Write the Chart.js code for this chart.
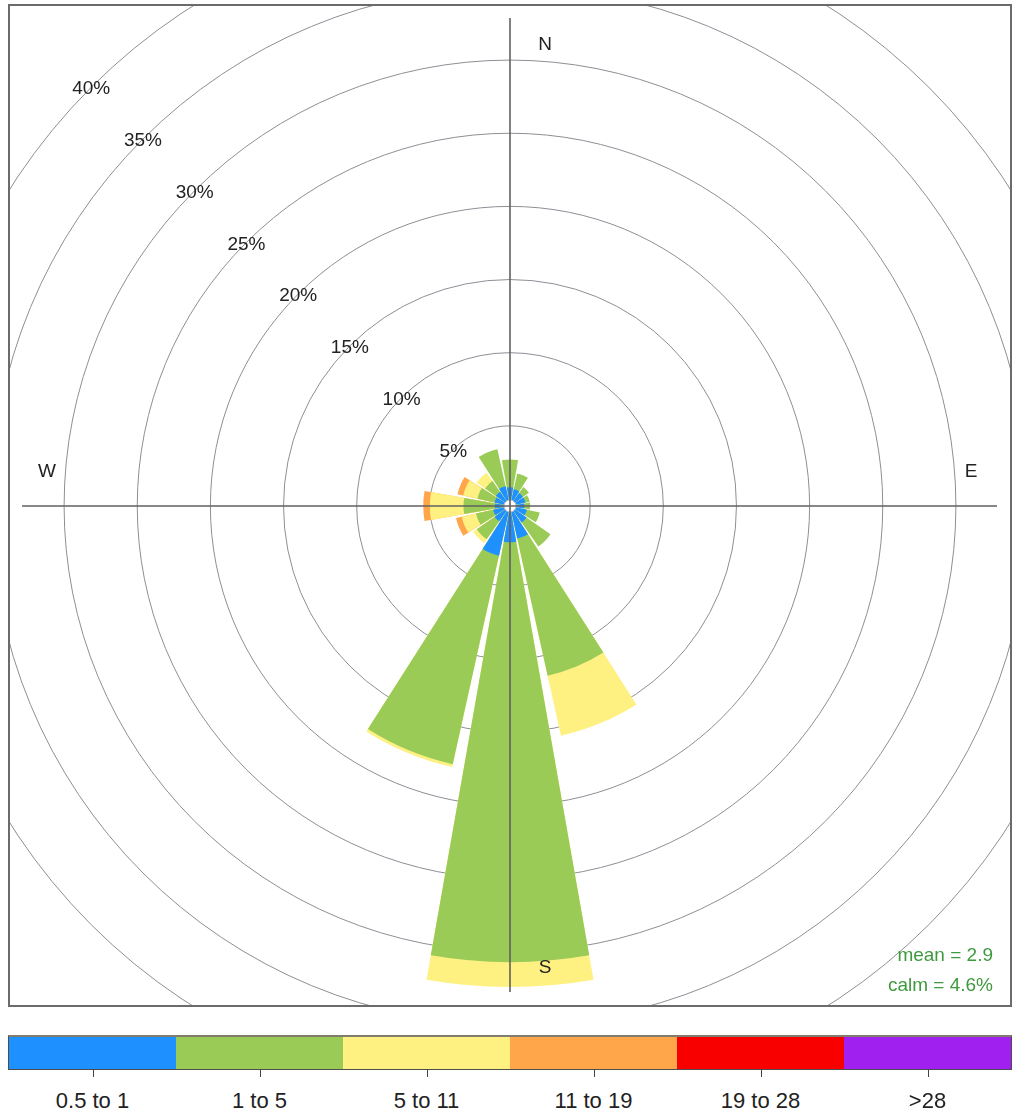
<!DOCTYPE html>
<html>
<head>
<meta charset="utf-8">
<title>Wind rose</title>
<script src="https://cdn.jsdelivr.net/npm/chart.js@4.4.1/dist/chart.umd.min.js"></script>
<style>
  body { margin: 0; background: #fff; font-family: "Liberation Sans", Arial, sans-serif; }
  #frame { position: absolute; left: 8px; top: 4px; width: 1004px; height: 1003px;
    border: 2px solid #6b6b6b; box-sizing: border-box; overflow: hidden; }
  #rose { position: absolute; left: -120px; top: -120px; }
  .stat { position: absolute; right: 17px; color: #3f9a3f; font-size: 19px; line-height: 22px; }
  #key { position: absolute; left: 8px; top: 1035px; width: 1004px; height: 35px; display: flex;
    border: 1px solid #4d4d4d; border-top: 2px solid #807c6e; box-sizing: border-box; }
  #key .cell { flex: 1; position: relative; }
  #key .tick { position: absolute; left: 50%; top: 100%; width: 1px; height: 8px; background: #444; }
  #key .name { position: absolute; left: 50%; top: 51px; transform: translateX(-50%);
    white-space: nowrap; font-size: 22px; color: #222; }
</style>
</head>
<body>
<div id="frame">
  <canvas id="rose" width="1240" height="1240"></canvas>
  <div class="stat" id="mean" style="top: 938px;"></div>
  <div class="stat" id="calm" style="top: 968px;"></div>
</div>
<div id="key"></div>

<script>
const directions = ['N', 'NNE', 'NE', 'ENE', 'E', 'ESE', 'SE', 'SSE',
  'S', 'SSW', 'SW', 'WSW', 'W', 'WNW', 'NW', 'NNW'];
const speedBins = ['0.5 to 1', '1 to 5', '5 to 11', '11 to 19', '19 to 28', '>28'];

// % of time per direction for each wind speed band
const ws0p5to1 = [0.8, 0.7, 0.6, 0.6, 0.5, 0.7, 0.9, 1.8, 2.0, 3.0, 0.8, 0.7, 0.55, 0.6, 0.7, 0.9];
const ws1to5 = [1.9, 1.1, 0.5, 0.3, 0.4, 0.9, 2.0, 9.6, 28.7, 14.6, 1.5, 1.2, 2.15, 1.2, 0.9, 2.6];
const ws5to11 = [0, 0, 0, 0, 0, 0, 0, 4.2, 1.7, 0.2, 0.3, 1.0, 2.3, 1.0, 0.7, 0];
const ws11to19 = [0, 0, 0, 0, 0, 0, 0, 0, 0, 0, 0, 0.4, 0.45, 0.4, 0, 0];
const ws19to28 = [0, 0, 0, 0, 0, 0, 0, 0, 0, 0, 0, 0, 0, 0, 0, 0];
const ws28up = [0, 0, 0, 0, 0, 0, 0, 0, 0, 0, 0, 0, 0, 0, 0, 0];

const ringTicks = [5, 10, 15, 20, 25, 30, 35, 40];
const meanSpeed = 2.9;
const calmPct = 4.6;

const binColors = ['#1e90ff', '#9bcb57', '#fff082', '#ffa54a', '#f80000', '#a020f0'];
const barAngle = 20;   // each 22.5 deg sector, with a small wedge left empty
const gapAngle = 2.5;

// turn the bands into cumulative radii, each bar followed by an empty gap slot
function stackBins(bins) {
  let running = directions.map(() => 0);
  return bins.map((bin) => {
    running = running.map((v, i) => v + bin[i]);
    let out = [];
    running.forEach((v, i) => {
      out.push(bin[i] > 0 ? v : 0);
      out.push(0);
    });
    return out;
  });
}

const roseDecor = {
  id: 'roseDecor',
  afterDatasetsDraw(chart) {
    const ctx = chart.ctx;
    const scale = chart.scales.r;
    const cx = scale.xCenter;
    const cy = scale.yCenter;
    ctx.save();

    // calm hole in the middle
    ctx.beginPath();
    ctx.arc(cx, cy, scale.getDistanceFromCenterForValue(0) - 1, 0, Math.PI * 2);
    ctx.fillStyle = '#fff';
    ctx.fill();
    ctx.strokeStyle = '#b8b8c4';
    ctx.lineWidth = 1;
    ctx.stroke();

    // N-S / E-W axes
    ctx.strokeStyle = '#626262';
    ctx.lineWidth = 1.6;
    ctx.beginPath();
    ctx.moveTo(cx - 488, cy);
    ctx.lineTo(cx + 487, cy);
    ctx.moveTo(cx, cy - 488);
    ctx.lineTo(cx, cy + 486);
    ctx.stroke();

    ctx.fillStyle = '#222';
    ctx.textAlign = 'center';
    ctx.textBaseline = 'middle';
    ctx.font = '19px "Liberation Sans", Arial, sans-serif';

    // percentage labels along the NW diagonal
    ringTicks.forEach((v) => {
      const d = scale.getDistanceFromCenterForValue(v);
      ctx.fillText(v + '%', cx - d * Math.SQRT1_2, cy - d * Math.SQRT1_2 + 2);
    });

    ctx.fillText('N', cx + 35, cy - 461);
    ctx.fillText('E', cx + 461, cy - 34);
    ctx.fillText('S', cx + 35, cy + 462);
    ctx.fillText('W', cx - 463, cy - 34);
    ctx.restore();
  }
};

function drawRose() {
  const stacked = stackBins([ws0p5to1, ws1to5, ws5to11, ws11to19, ws19to28, ws28up]);
  let labels = [];
  directions.forEach((d) => { labels.push(d); labels.push(''); });

  const datasets = stacked.map((data, k) => ({
    label: speedBins[k],
    data: data,
    borderWidth: 0,
    angle: (c) => (c.dataIndex % 2 ? gapAngle : barAngle),
    backgroundColor: (c) => (c.dataIndex % 2 || !c.raw ? 'rgba(0,0,0,0)' : binColors[k]),
  }));

  new Chart(document.getElementById('rose'), {
    type: 'polarArea',
    data: { labels: labels, datasets: datasets },
    options: {
      responsive: false,
      animation: false,
      events: [],
      layout: { padding: 0 },
      plugins: { legend: { display: false }, tooltip: { enabled: false } },
      scales: {
        r: {
          min: -0.48,
          max: 41.9,
          startAngle: -barAngle / 2,
          afterBuildTicks: (scale) => { scale.ticks = ringTicks.map((v) => ({ value: v })); },
          ticks: { display: false },
          grid: { circular: true, color: '#8e8e96', lineWidth: 1 },
          angleLines: { display: false },
          pointLabels: { display: false },
        }
      }
    },
    plugins: [roseDecor]
  });

  document.getElementById('mean').textContent = 'mean = ' + meanSpeed;
  document.getElementById('calm').textContent = 'calm = ' + calmPct + '%';
}

function drawKey() {
  const key = document.getElementById('key');
  speedBins.forEach((name, i) => {
    const cell = document.createElement('div');
    cell.className = 'cell';
    cell.style.background = binColors[i];
    cell.innerHTML = '<div class="tick"></div><div class="name">' + name + '</div>';
    key.appendChild(cell);
  });
}

drawRose();
drawKey();
</script>
</body>
</html>
